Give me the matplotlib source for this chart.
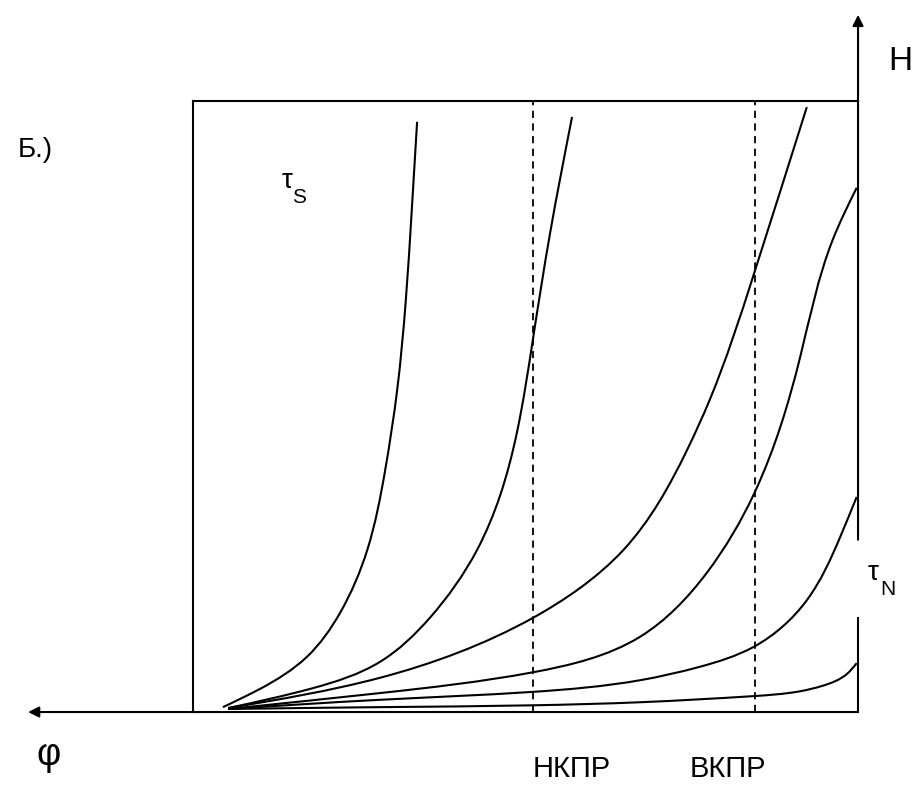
# Б.) H vs φ curves between НКПР and ВКПР
import numpy as np
import matplotlib
matplotlib.use("Agg")
import matplotlib.pyplot as plt
from matplotlib.path import Path
from matplotlib.patches import PathPatch

plt.rcParams['font.family'] = ['Liberation Sans', 'DejaVu Sans']

# curves in box units (0..100 across, 0..100 up)
c1_x = [4.5, 10.1, 17.1, 22.1, 26.2, 28.9, 30.7, 32.0, 32.9, 33.7]
c1_y = [0.8, 3.8, 9.0, 16.2, 26.5, 39.6, 52.7, 67.4, 82.2, 96.6]
c2_x = [5.3, 18.0, 28.1, 35.6, 42.7, 46.2, 48.7, 51.1, 53.7, 57.0]
c2_y = [0.65, 3.9, 8.2, 15.4, 26.5, 35.5, 45.7, 60.9, 78.4, 97.4]
c3_x = [5.3, 28.1, 51.1, 58.2, 64.7, 74.3, 77.7, 84.2, 92.3]
c3_y = [0.65, 5.6, 15.4, 20.3, 26.5, 42.9, 51.1, 71.2, 99.0]
c4_x = [5.3, 28.1, 51.1, 67.2, 77.2, 84.4, 91.3, 96.2, 99.8]
c4_y = [0.5, 3.1, 6.5, 12.3, 22.7, 35.8, 58.1, 77.3, 85.8]
c5_x = [5.3, 28.1, 51.1, 67.2, 76.2, 84.2, 92.3, 97.3, 99.8]
c5_y = [0.5, 2.0, 3.3, 5.2, 7.4, 10.6, 18.3, 28.6, 35.2]
c6_x = [5.3, 28.1, 51.1, 67.2, 84.2, 91.3, 94.7, 98.3, 99.8]
c6_y = [0.5, 0.8, 1.1, 1.6, 2.6, 3.4, 4.3, 6.2, 8.0]

curves = [(c1_x, c1_y), (c2_x, c2_y), (c3_x, c3_y),
          (c4_x, c4_y), (c5_x, c5_y), (c6_x, c6_y)]

nkpr_x = 51.1
vkpr_x = 84.5


def smooth_path(xs, ys, sx=6.65, sy=6.11):
    # natural cubic spline through the read points (chord length parameter),
    # handed to matplotlib as bezier segments
    p = np.column_stack([np.asarray(xs, float), np.asarray(ys, float)])
    n = len(p)
    scale = np.array([sx, sy])
    t = np.concatenate([[0], np.cumsum(np.linalg.norm(np.diff(p * scale, axis=0), axis=1))])
    h = np.diff(t)
    A = np.zeros((n, n))
    r = np.zeros((n, 2))
    A[0, 0] = A[-1, -1] = 1
    for i in range(1, n - 1):
        A[i, i - 1] = h[i - 1]
        A[i, i] = 2 * (h[i - 1] + h[i])
        A[i, i + 1] = h[i]
        r[i] = 6 * ((p[i + 1] - p[i]) / h[i] - (p[i] - p[i - 1]) / h[i - 1])
    M = np.linalg.solve(A, r)
    verts = [tuple(p[0])]
    codes = [Path.MOVETO]
    for i in range(n - 1):
        slope = (p[i + 1] - p[i]) / h[i]
        d0 = slope - h[i] * (2 * M[i] + M[i + 1]) / 6
        d1 = slope + h[i] * (M[i] + 2 * M[i + 1]) / 6
        verts += [tuple(p[i] + d0 * h[i] / 3), tuple(p[i + 1] - d1 * h[i] / 3),
                  tuple(p[i + 1])]
        codes += [Path.CURVE4] * 3
    return Path(verts, codes)


fig = plt.figure(figsize=(9.23, 7.87), dpi=100)
ax = fig.add_axes([0, 0, 1, 1])
ax.set_xlim(-29.02, 109.77)
ax.set_ylim(-12.27, 116.53)
ax.axis('off')

lw = 1.5
# frame
ax.plot([0, 0], [0, 100], color='black', lw=lw)
ax.plot([0, 100], [100, 100], color='black', lw=lw)
ax.plot([100, 100], [0, 15.4], color='black', lw=lw)

# axes arrows
arrow = dict(arrowstyle='-|>', color='black', lw=lw, mutation_scale=16,
             shrinkA=0, shrinkB=0)
ax.annotate('', xy=(-24.8, 0), xytext=(100, 0), arrowprops=arrow)
ax.annotate('', xy=(100, 114.1), xytext=(100, 28.2), arrowprops=arrow)

# limits
for xv in [nkpr_x, vkpr_x]:
    ax.plot([xv, xv], [0, 100], color='black', lw=1.3, ls=(0, (4, 3)))

for xs, ys in curves:
    ax.add_patch(PathPatch(smooth_path(xs, ys), fill=False,
                           edgecolor='black', lw=1.5))

# labels
ax.text(-26.3, 90.8, 'Б.)', fontsize=20, va='baseline', ha='left')
ax.text(104.5, 105.1, 'H', fontsize=24, va='baseline', ha='left')
ax.text(-21.7, -7.0, 'φ', fontsize=27, va='center', ha='center')
ax.text(nkpr_x, -10.6, 'НКПР', fontsize=21, va='baseline', ha='left')
ax.text(74.7, -10.6, 'ВКПР', fontsize=21, va='baseline', ha='left')
ax.text(13.4, 85.8, 'τ', fontsize=20, va='baseline', ha='left')
ax.text(14.9, 83.3, 'S', fontsize=15, va='baseline', ha='left')
ax.text(101.4, 21.6, 'τ', fontsize=20, va='baseline', ha='left')
ax.text(103.3, 19.1, 'N', fontsize=15, va='baseline', ha='left')

fig.savefig('out.png', dpi=100)
